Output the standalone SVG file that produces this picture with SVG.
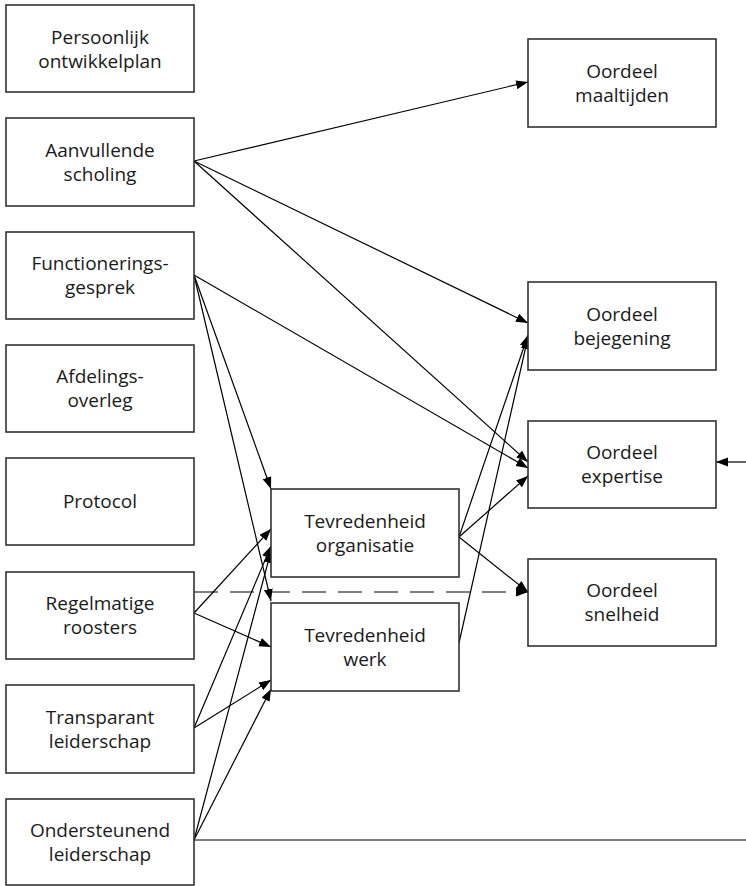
<svg xmlns="http://www.w3.org/2000/svg" width="746" height="886" viewBox="0 0 746 886">
<style>
.box rect{fill:#fff;stroke:#333;stroke-width:1.6}
.box text{font-family:"Open Sans","Liberation Sans",sans-serif;font-size:19px;fill:#1a1a1a;text-anchor:middle}
#connectors line{stroke:#000;stroke-width:1.2;fill:none}
#connectors line.arr{marker-end:url(#ah)}
#connectors line.dash{stroke-dasharray:24 12}
</style>
<defs>
<marker id="ah" markerUnits="userSpaceOnUse" markerWidth="12" markerHeight="10" refX="12" refY="4.5" orient="auto">
<path d="M0,0 L12,4.5 L0,9 z" fill="#000"/>
</marker>
</defs>
<rect width="746" height="886" fill="#fff"/>
<g id="connectors">
<line class="arr" x1="194" y1="161" x2="528" y2="82"/>
<line class="arr" x1="194" y1="161" x2="528" y2="323"/>
<line class="arr" x1="194" y1="161" x2="528" y2="462"/>
<line class="arr" x1="194" y1="275" x2="528" y2="468"/>
<line class="arr" x1="194" y1="275" x2="271" y2="489"/>
<line class="arr" x1="194" y1="275" x2="271" y2="601"/>
<line class="arr" x1="194" y1="613" x2="271" y2="529"/>
<line class="arr" x1="194" y1="613" x2="271" y2="647"/>
<line class="arr dash" x1="194" y1="592" x2="528" y2="592"/>
<line class="arr" x1="194" y1="728" x2="271" y2="546"/>
<line class="arr" x1="194" y1="728" x2="271" y2="680"/>
<line class="arr" x1="194" y1="840" x2="271" y2="551"/>
<line class="arr" x1="194" y1="840" x2="271" y2="689"/>
<line x1="194" y1="840" x2="746" y2="840"/>
<line class="arr" x1="459" y1="537" x2="528" y2="335"/>
<line class="arr" x1="459" y1="537" x2="528" y2="476"/>
<line class="arr" x1="459" y1="537" x2="528" y2="592"/>
<line class="arr" x1="459" y1="643" x2="528" y2="337"/>
<line class="arr" x1="746" y1="462" x2="716" y2="462"/>
</g>
<g id="persoonlijk" class="box"><rect x="6" y="5" width="188" height="87"/><text x="100" y="44">Persoonlijk</text><text x="100" y="68">ontwikkelplan</text></g>
<g id="aanvullende" class="box"><rect x="6" y="118" width="188" height="88"/><text x="100" y="157">Aanvullende</text><text x="100" y="181">scholing</text></g>
<g id="functionering" class="box"><rect x="6" y="232" width="188" height="87"/><text x="100" y="270">Functionerings-</text><text x="100" y="294">gesprek</text></g>
<g id="afdelingsoverleg" class="box"><rect x="6" y="345" width="188" height="87"/><text x="100" y="383">Afdelings-</text><text x="100" y="407">overleg</text></g>
<g id="protocol" class="box"><rect x="6" y="458" width="188" height="87"/><text x="100" y="508">Protocol</text></g>
<g id="roosters" class="box"><rect x="6" y="572" width="188" height="87"/><text x="100" y="610">Regelmatige</text><text x="100" y="634">roosters</text></g>
<g id="transparant" class="box"><rect x="6" y="685" width="188" height="88"/><text x="100" y="724">Transparant</text><text x="100" y="748">leiderschap</text></g>
<g id="ondersteunend" class="box"><rect x="6" y="799" width="188" height="86"/><text x="100" y="837">Ondersteunend</text><text x="100" y="861">leiderschap</text></g>
<g id="tev-org" class="box"><rect x="271" y="489" width="188" height="88"/><text x="365" y="528">Tevredenheid</text><text x="365" y="552">organisatie</text></g>
<g id="tev-werk" class="box"><rect x="271" y="603" width="188" height="88"/><text x="365" y="642">Tevredenheid</text><text x="365" y="666">werk</text></g>
<g id="maaltijden" class="box"><rect x="528" y="39" width="188" height="88"/><text x="622" y="78">Oordeel</text><text x="622" y="102">maaltijden</text></g>
<g id="bejegening" class="box"><rect x="528" y="282" width="188" height="88"/><text x="622" y="321">Oordeel</text><text x="622" y="345">bejegening</text></g>
<g id="expertise" class="box"><rect x="528" y="421" width="188" height="87"/><text x="622" y="459">Oordeel</text><text x="622" y="483">expertise</text></g>
<g id="snelheid" class="box"><rect x="528" y="559" width="188" height="87"/><text x="622" y="597">Oordeel</text><text x="622" y="621">snelheid</text></g>
</svg>
